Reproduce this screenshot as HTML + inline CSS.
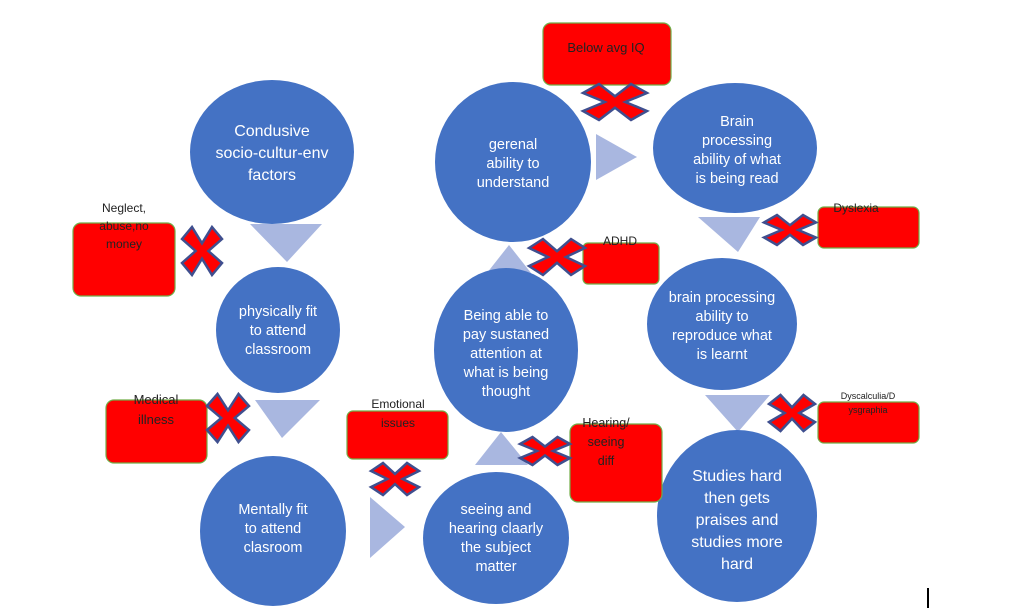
<!DOCTYPE html>
<html><head><meta charset="utf-8"><style>
html,body{margin:0;padding:0;background:#fff;}
svg{display:block;}
.c{fill:#4472c4;}
.t{fill:#a9b7e0;}
.r{fill:#ff0000;stroke:#70ad47;stroke-width:1.2;}
.w{font-family:"Liberation Sans",sans-serif;fill:#fff;font-size:14.5px;text-anchor:middle;}
.k{font-family:"Liberation Sans",sans-serif;fill:#222;font-size:12px;text-anchor:middle;}
.x{fill:#ff0000;stroke:#3f4f8f;stroke-width:2.5;vector-effect:non-scaling-stroke;}
</style></head><body>
<svg width="1024" height="608" viewBox="0 0 1024 608" xmlns="http://www.w3.org/2000/svg">
<defs><polygon id="X" class="x" points="-1,-0.5 -0.5,-1 0,-0.32 0.5,-1 1,-0.5 0.32,0 1,0.5 0.5,1 0,0.32 -0.5,1 -1,0.5 -0.32,0"/></defs>
<polygon class="t" points="250,224 322,224 287,262"/>
<polygon class="t" points="255,400 320,400 282,438"/>
<polygon class="t" points="370,497 370,558 405,527"/>
<polygon class="t" points="475,465 528,465 501,432"/>
<polygon class="t" points="483,278 535,278 509,245"/>
<polygon class="t" points="596,134 596,180 637,157"/>
<polygon class="t" points="698,217 760,217 738,252"/>
<polygon class="t" points="705,395 770,395 738,432"/>
<ellipse class="c" cx="272" cy="152" rx="82" ry="72"/>
<ellipse class="c" cx="278" cy="330" rx="62" ry="63"/>
<ellipse class="c" cx="273" cy="531" rx="73" ry="75"/>
<ellipse class="c" cx="496" cy="538" rx="73" ry="66"/>
<ellipse class="c" cx="506" cy="350" rx="72" ry="82"/>
<ellipse class="c" cx="513" cy="162" rx="78" ry="80"/>
<ellipse class="c" cx="735" cy="148" rx="82" ry="65"/>
<ellipse class="c" cx="722" cy="324" rx="75" ry="66"/>
<ellipse class="c" cx="737" cy="516" rx="80" ry="86"/>
<text class="w" style="font-size:16px"><tspan x="272" y="136">Condusive</tspan><tspan x="272" y="158">socio-cultur-env</tspan><tspan x="272" y="180">factors</tspan></text>
<text class="w"><tspan x="278" y="316">physically fit</tspan><tspan x="278" y="335">to attend</tspan><tspan x="278" y="354">classroom</tspan></text>
<text class="w"><tspan x="273" y="514">Mentally fit</tspan><tspan x="273" y="533">to attend</tspan><tspan x="273" y="552">clasroom</tspan></text>
<text class="w"><tspan x="496" y="514">seeing and</tspan><tspan x="496" y="533">hearing claarly</tspan><tspan x="496" y="552">the subject</tspan><tspan x="496" y="571">matter</tspan></text>
<text class="w"><tspan x="506" y="320">Being able to</tspan><tspan x="506" y="339">pay sustaned</tspan><tspan x="506" y="358">attention at</tspan><tspan x="506" y="377">what is being</tspan><tspan x="506" y="396">thought</tspan></text>
<text class="w"><tspan x="513" y="149">gerenal</tspan><tspan x="513" y="168">ability to</tspan><tspan x="513" y="187">understand</tspan></text>
<text class="w"><tspan x="737" y="126">Brain</tspan><tspan x="737" y="145">processing</tspan><tspan x="737" y="164">ability of what</tspan><tspan x="737" y="183">is being read</tspan></text>
<text class="w"><tspan x="722" y="302">brain processing</tspan><tspan x="722" y="321">ability to</tspan><tspan x="722" y="340">reproduce what</tspan><tspan x="722" y="359">is learnt</tspan></text>
<text class="w" style="font-size:16px"><tspan x="737" y="481">Studies hard</tspan><tspan x="737" y="503">then gets</tspan><tspan x="737" y="525">praises and</tspan><tspan x="737" y="547">studies more</tspan><tspan x="737" y="569">hard</tspan></text>
<rect class="r" x="543" y="23" width="128" height="62" rx="8"/>
<rect class="r" x="73" y="223" width="102" height="73" rx="8"/>
<rect class="r" x="106" y="400" width="101" height="63" rx="8"/>
<rect class="r" x="347" y="411" width="101" height="48" rx="6"/>
<rect class="r" x="583" y="243" width="76" height="41" rx="5"/>
<rect class="r" x="818" y="207" width="101" height="41" rx="6"/>
<rect class="r" x="570" y="424" width="92" height="78" rx="8"/>
<rect class="r" x="818" y="402" width="101" height="41" rx="6"/>
<text class="k" style="font-size:13px" x="606" y="52">Below avg IQ</text>
<text class="k"><tspan x="124" y="212">Neglect,</tspan><tspan x="124" y="230">abuse,no</tspan><tspan x="124" y="248">money</tspan></text>
<text class="k" style="font-size:13px"><tspan x="156" y="404">Medical</tspan><tspan x="156" y="424">illness</tspan></text>
<text class="k"><tspan x="398" y="408">Emotional</tspan><tspan x="398" y="427">issues</tspan></text>
<text class="k" x="620" y="245">ADHD</text>
<text class="k" x="856" y="212">Dyslexia</text>
<text class="k" style="font-size:12.5px"><tspan x="606" y="427">Hearing/</tspan><tspan x="606" y="446">seeing</tspan><tspan x="606" y="465">diff</tspan></text>
<text class="k" style="font-size:9px"><tspan x="868" y="399">Dyscalculia/D</tspan><tspan x="868" y="413">ysgraphia</tspan></text>
<use href="#X" transform="translate(202,251) scale(20,24)"/>
<use href="#X" transform="translate(228,418) scale(21,24)"/>
<use href="#X" transform="translate(395,479) scale(24,16)"/>
<use href="#X" transform="translate(557,257) scale(28,18)"/>
<use href="#X" transform="translate(615,102) scale(32,18)"/>
<use href="#X" transform="translate(790,230) scale(26,15)"/>
<use href="#X" transform="translate(792,413) scale(23,18)"/>
<use href="#X" transform="translate(545,451) scale(25,14)"/>
<line x1="928" y1="588" x2="928" y2="608" stroke="#000" stroke-width="2"/>
</svg>
</body></html>
